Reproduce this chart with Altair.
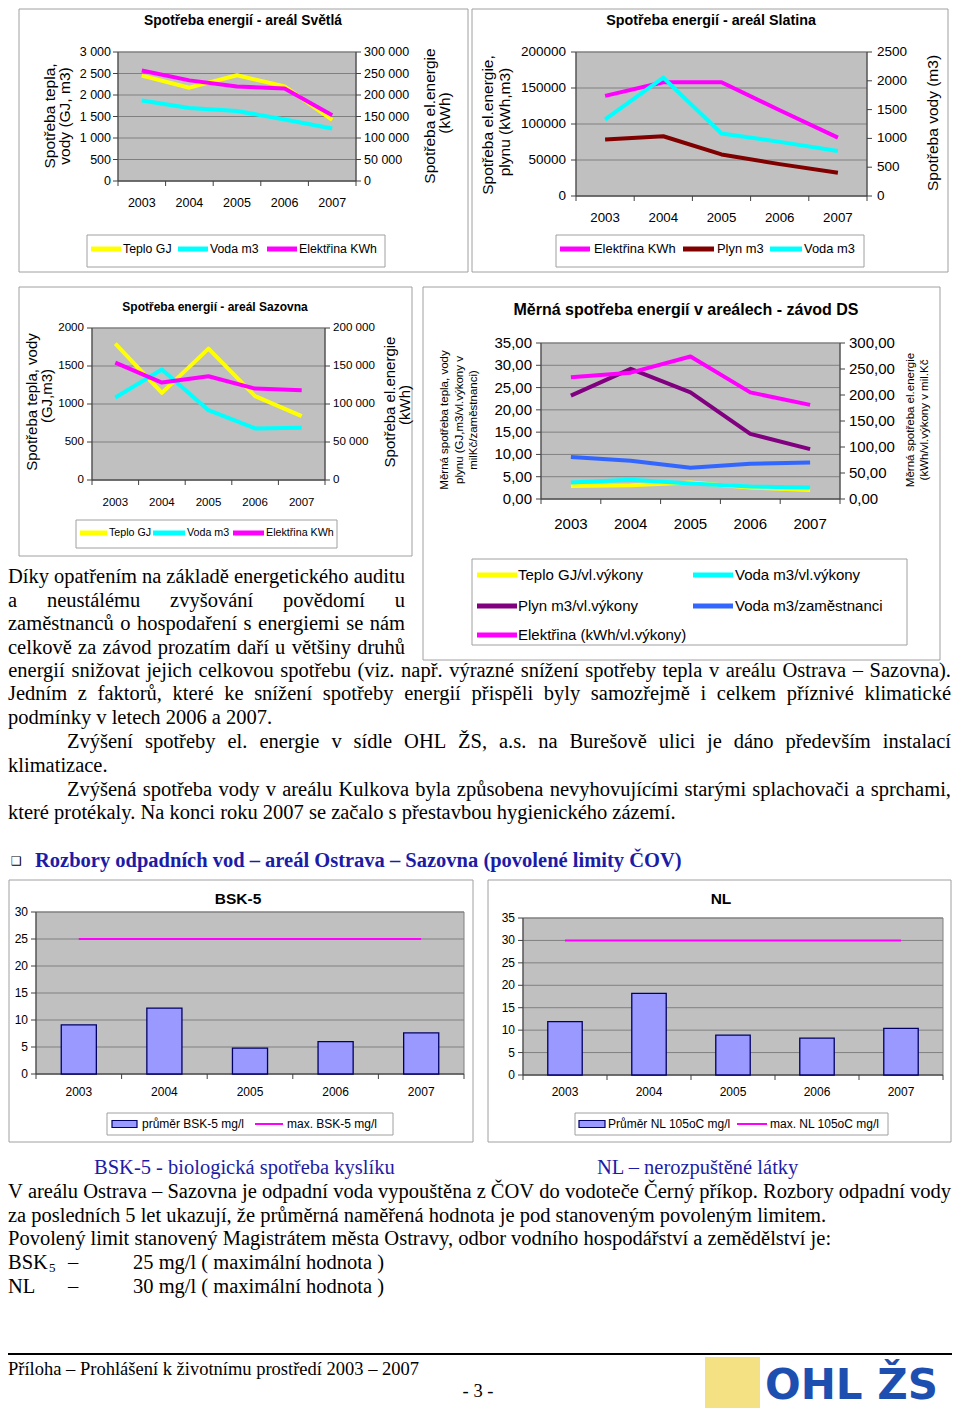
import unicodedata
import altair as alt
import pandas as pd

OFF = 8
SANS = "Liberation Sans, Arial, Helvetica, sans-serif"
NARROW = SANS
SERIF = "Liberation Serif, Times New Roman, serif"

YELLOW = "#ffff00"
CYAN = "#00ffff"
MAGENTA = "#ff00ff"
DKRED = "#800000"
PURPLE = "#800080"
BLUE = "#3366ff"
PLOT_BG = "#c0c0c0"
GRID = "#808080"
FRAME = "#a0a0a0"
AXIS = "#404040"
TEXT_BLUE = "#1c1ca6"

# ---------------- data ----------------
YEARS = [2003, 2004, 2005, 2006, 2007]
YEAR_LABELS = ["2003", "2004", "2005", "2006", "2007"]
BOUNDS = [2002.5, 2003.5, 2004.5, 2005.5, 2006.5, 2007.5]

# areál Světlá
SV_TEPLO = [2450, 2170, 2460, 2200, 1420]
SV_VODA = [1870, 1700, 1630, 1430, 1220]
SV_ELEKTRINA = [257000, 234000, 220000, 215000, 153000]
SV_LEFT_TICKS = [0, 500, 1000, 1500, 2000, 2500, 3000]
SV_LEFT_LABELS = ["0", "500", "1 000", "1 500", "2 000", "2 500", "3 000"]
SV_RIGHT_TICKS = [0, 50000, 100000, 150000, 200000, 250000, 300000]
SV_RIGHT_LABELS = ["0", "50 000", "100 000", "150 000", "200 000", "250 000", "300 000"]

# areál Slatina
SL_ELEKTRINA = [139000, 158000, 158000, 119000, 81000]
SL_PLYN = [78500, 83000, 57700, 44300, 32300]
SL_VODA = [1330, 2055, 1085, 940, 780]
SL_LEFT_TICKS = [0, 50000, 100000, 150000, 200000]
SL_LEFT_LABELS = ["0", "50000", "100000", "150000", "200000"]
SL_RIGHT_TICKS = [0, 500, 1000, 1500, 2000, 2500]
SL_RIGHT_LABELS = ["0", "500", "1000", "1500", "2000", "2500"]

# areál Sazovna
SZ_TEPLO = [1795, 1147, 1729, 1103, 840]
SZ_VODA = [1085, 1453, 919, 678, 687]
SZ_ELEKTRINA = [154500, 128200, 136500, 120300, 118200]
SZ_LEFT_TICKS = [0, 500, 1000, 1500, 2000]
SZ_LEFT_LABELS = ["0", "500", "1000", "1500", "2000"]
SZ_RIGHT_TICKS = [0, 50000, 100000, 150000, 200000]
SZ_RIGHT_LABELS = ["0", "50 000", "100 000", "150 000", "200 000"]

# závod DS
DS_TEPLO = [2.9, 3.1, 3.7, 2.6, 2.0]
DS_VODA_VYK = [3.7, 4.3, 3.5, 2.8, 2.6]
DS_PLYN = [23.2, 29.2, 23.9, 14.6, 11.2]
DS_VODA_ZAM = [9.4, 8.6, 7.0, 7.9, 8.2]
DS_ELEKTRINA = [234, 243, 274, 205, 181]
DS_LEFT_TICKS = [0, 5, 10, 15, 20, 25, 30, 35]
DS_LEFT_LABELS = ["0,00", "5,00", "10,00", "15,00", "20,00", "25,00", "30,00", "35,00"]
DS_RIGHT_TICKS = [0, 50, 100, 150, 200, 250, 300]
DS_RIGHT_LABELS = ["0,00", "50,00", "100,00", "150,00", "200,00", "250,00", "300,00"]

# odpadní vody
BSK_PRUMER = [9.1, 12.2, 4.8, 6.0, 7.6]
BSK_MAX = [25, 25, 25, 25, 25]
BSK_TICKS = [0, 5, 10, 15, 20, 25, 30]
BSK_LABELS = ["0", "5", "10", "15", "20", "25", "30"]
NL_PRUMER = [11.9, 18.2, 8.9, 8.2, 10.4]
NL_MAX = [30, 30, 30, 30, 30]
NL_TICKS = [0, 5, 10, 15, 20, 25, 30, 35]
NL_LABELS = ["0", "5", "10", "15", "20", "25", "30", "35"]

# ---------------- helpers ----------------
ONE = [{"k": 0}]


def _c():
    return alt.Chart(alt.Data(values=ONE))


def box(x0, y0, x1, y1, fill="white", stroke=FRAME, sw=1):
    kw = dict(fill=fill)
    if stroke:
        kw.update(stroke=stroke, strokeWidth=sw)
    return _c().mark_rect(**kw).encode(
        x=alt.value(x0 - OFF), x2=alt.value(x1 - OFF),
        y=alt.value(y0 - OFF), y2=alt.value(y1 - OFF))


def seg(x0, y0, x1, y1, color, w):
    return _c().mark_rule(color=color, strokeWidth=w).encode(
        x=alt.value(x0 - OFF), x2=alt.value(x1 - OFF),
        y=alt.value(y0 - OFF), y2=alt.value(y1 - OFF))


def txt(x, y, s, fs, font=SANS, weight="normal", color="black", align="left",
        angle=None, baseline="middle"):
    kw = dict(text=s, fontSize=fs, font=font, fontWeight=weight, color=color,
              align=align, baseline=baseline)
    if angle is not None:
        kw["angle"] = angle
    return _c().mark_text(**kw).encode(x=alt.value(x - OFF), y=alt.value(y - OFF))


def lin(dom, a, b):
    return alt.Scale(domain=dom, range=[a - OFF, b - OFF], nice=False, zero=False)


def legend(bx, items, fs, font, lw=5):
    L = [box(*bx)]
    for lx0, lx1, tx, y, color, s in items:
        L.append(seg(lx0, y, lx1, y, color, lw))
        L.append(txt(tx, y, s, fs, font=font))
    return L


def line_panel(c):
    L = [box(*c["frame"])]
    x0, y0, x1, y1 = c["plot"]
    L.append(box(x0, y0, x1, y1, fill=PLOT_BG, stroke=GRID))
    lt, ll = c["left"]
    rt, rl = c["right"]
    ls = lin([lt[0], lt[-1]], y1, y0)
    rs = lin([rt[0], rt[-1]], y1, y0)
    xs = lin([2002.5, 2007.5], x0, x1)
    ldf = pd.DataFrame({"t": lt, "lab": ll})
    rdf = pd.DataFrame({"t": rt, "lab": rl})
    yl = alt.Y("t:Q", scale=ls, axis=None)
    yr = alt.Y("t:Q", scale=rs, axis=None)
    L.append(alt.Chart(ldf).mark_rule(color=GRID, strokeWidth=1).encode(
        y=yl, x=alt.value(x0 - OFF), x2=alt.value(x1 - OFF)))
    L.append(seg(x0, y0, x0, y1, AXIS, 1))
    L.append(seg(x1, y0, x1, y1, AXIS, 1))
    L.append(seg(x0, y1, x1, y1, AXIS, 1))
    L.append(alt.Chart(ldf).mark_rule(color=AXIS).encode(
        y=yl, x=alt.value(x0 - OFF - 5), x2=alt.value(x0 - OFF)))
    L.append(alt.Chart(rdf).mark_rule(color=AXIS).encode(
        y=yr, x=alt.value(x1 - OFF), x2=alt.value(x1 - OFF + 5)))
    L.append(alt.Chart(pd.DataFrame({"b": BOUNDS})).mark_rule(color=AXIS).encode(
        x=alt.X("b:Q", scale=xs, axis=None), y=alt.value(y1 - OFF), y2=alt.value(y1 - OFF + 5)))
    f = c["font"]
    L.append(alt.Chart(ldf).mark_text(align="right", baseline="middle", font=f,
                                      fontSize=c["tick_fs"]).encode(
        y=yl, x=alt.value(x0 - OFF - c["lgap"]), text="lab:N"))
    L.append(alt.Chart(rdf).mark_text(align="left", baseline="middle", font=f,
                                      fontSize=c["tick_fs"]).encode(
        y=yr, x=alt.value(x1 - OFF + c["rgap"]), text="lab:N"))
    xdf = pd.DataFrame({"year": YEARS, "lab": YEAR_LABELS})
    L.append(alt.Chart(xdf).mark_text(align="center", baseline="middle", font=f,
                                      fontSize=c["x_fs"]).encode(
        x=alt.X("year:Q", scale=xs, axis=None), y=alt.value(c["x_y"] - OFF), text="lab:N"))
    for vals, side, color in c["series"]:
        df = pd.DataFrame({"year": YEARS, "v": vals})
        L.append(alt.Chart(df).mark_line(color=color, strokeWidth=4, strokeJoin="round").encode(
            x=alt.X("year:Q", scale=xs, axis=None),
            y=alt.Y("v:Q", scale=ls if side == "left" else rs, axis=None)))
    s, tx, ty, tfs = c["title"]
    L.append(txt(tx, ty, s, tfs, font=f, weight="bold", align="center"))
    for s, ax, ay in c["axis_titles"]:
        L.append(txt(ax, ay, s, c["at_fs"], font=SANS, align="center", angle=270))
    L += legend(c["legend_box"], c["legend_items"], c["legend_fs"], f)
    return L


def bar_panel(c):
    L = [box(*c["frame"])]
    x0, y0, x1, y1 = c["plot"]
    L.append(box(x0, y0, x1, y1, fill=PLOT_BG, stroke=GRID))
    ticks, labels = c["ticks"]
    ys = lin([ticks[0], ticks[-1]], y1, y0)
    bs = alt.Scale(type="band", domain=YEARS, range=[x0 - OFF, x1 - OFF],
                   paddingInner=0.59, paddingOuter=0.295)
    ps = alt.Scale(type="point", domain=YEARS, range=[x0 - OFF, x1 - OFF], padding=0.5)
    qs = lin([2002.5, 2007.5], x0, x1)
    tdf = pd.DataFrame({"t": ticks, "lab": labels})
    yt = alt.Y("t:Q", scale=ys, axis=None)
    L.append(alt.Chart(tdf).mark_rule(color=GRID, strokeWidth=1).encode(
        y=yt, x=alt.value(x0 - OFF), x2=alt.value(x1 - OFF)))
    L.append(seg(x0, y0, x0, y1, AXIS, 1))
    L.append(seg(x0, y1, x1, y1, AXIS, 1))
    L.append(alt.Chart(tdf).mark_rule(color=AXIS).encode(
        y=yt, x=alt.value(x0 - OFF - 5), x2=alt.value(x0 - OFF)))
    L.append(alt.Chart(pd.DataFrame({"b": BOUNDS})).mark_rule(color=AXIS).encode(
        x=alt.X("b:Q", scale=qs, axis=None), y=alt.value(y1 - OFF), y2=alt.value(y1 - OFF + 5)))
    L.append(alt.Chart(tdf).mark_text(align="right", baseline="middle", font=SANS,
                                      fontSize=12).encode(
        y=yt, x=alt.value(x0 - OFF - 8), text="lab:N"))
    xdf = pd.DataFrame({"year": YEARS, "lab": YEAR_LABELS})
    L.append(alt.Chart(xdf).mark_text(align="center", baseline="middle", font=SANS,
                                      fontSize=12).encode(
        x=alt.X("year:O", scale=ps, axis=None), y=alt.value(c["x_y"] - OFF), text="lab:N"))
    bdf = pd.DataFrame({"year": YEARS, "v": c["bars"]})
    L.append(alt.Chart(bdf).mark_bar(fill="#9999ff", stroke="#000066", strokeWidth=1.3).encode(
        x=alt.X("year:O", scale=bs, axis=None), y=alt.Y("v:Q", scale=ys, axis=None),
        y2=alt.datum(0)))
    mdf = pd.DataFrame({"year": YEARS, "v": c["maxline"]})
    L.append(alt.Chart(mdf).mark_line(color=MAGENTA, strokeWidth=2).encode(
        x=alt.X("year:O", scale=ps, axis=None), y=alt.Y("v:Q", scale=ys, axis=None)))
    s, tx, ty = c["title"]
    L.append(txt(tx, ty, s, 15.5, weight="bold", align="center"))
    lb = c["legend_box"]
    L.append(box(*lb))
    ly = (lb[1] + lb[3]) / 2
    sx0, sx1, t1x, mx0, mx1, t2x = c["legend_pos"]
    L.append(box(sx0, ly - 3.5, sx1, ly + 3.5, fill="#9999ff", stroke="#000066", sw=1.2))
    L.append(txt(t1x, ly, c["legend_text"][0], 12))
    L.append(seg(mx0, ly, mx1, ly, MAGENTA, 2))
    L.append(txt(t2x, ly, c["legend_text"][1], 12))
    return L


# ---------------- body text helpers ----------------
TW = {" ": 250, "!": 333, "(": 333, ")": 333, ",": 250, "-": 333, ".": 250, "/": 278,
      ":": 278, ";": 278, "–": 500,
      "A": 722, "B": 667, "C": 667, "D": 722, "E": 611, "F": 556, "G": 722, "H": 722,
      "I": 333, "J": 389, "K": 722, "L": 611, "M": 889, "N": 722, "O": 722, "P": 556,
      "Q": 722, "R": 667, "S": 556, "T": 611, "U": 722, "V": 722, "W": 944, "X": 722,
      "Y": 722, "Z": 611,
      "a": 444, "b": 500, "c": 444, "d": 500, "e": 444, "f": 333, "g": 500, "h": 500,
      "i": 278, "j": 278, "k": 500, "l": 278, "m": 778, "n": 500, "o": 500, "p": 500,
      "q": 500, "r": 333, "s": 389, "t": 278, "u": 500, "v": 500, "w": 722, "x": 500,
      "y": 500, "z": 444}


def tw(s, fs):
    w = 0
    for ch in s:
        base = unicodedata.normalize("NFD", ch)[0]
        w += TW.get(base, 500)
    return w * fs / 1000.0


BODY_FS = 20.5
BODY_LINES = [
    ("Díky opatřením na základě energetického auditu", 8, 405, 577, True),
    ("a neustálému zvyšování povědomí u", 8, 405, 601, True),
    ("zaměstnanců o hospodaření s energiemi se nám", 8, 405, 624, True),
    ("celkově za závod prozatím daří u většiny druhů", 8, 405, 648, True),
    ("energií snižovat jejich celkovou spotřebu (viz. např. výrazné snížení spotřeby tepla v areálu Ostrava – Sazovna).", 8, 951, 671, True),
    ("Jedním z faktorů, které ke snížení spotřeby energií přispěli byly samozřejmě i celkem příznivé klimatické", 8, 951, 694, True),
    ("podmínky v letech 2006 a 2007.", 8, None, 718, False),
    ("Zvýšení spotřeby el. energie v sídle OHL ŽS, a.s. na Burešově ulici je dáno především instalací", 67, 951, 742, True),
    ("klimatizace.", 8, None, 766, False),
    ("Zvýšená spotřeba vody v areálu Kulkova byla způsobena nevyhovujícími starými splachovači a sprchami,", 67, 951, 790, True),
    ("které protékaly. Na konci roku 2007 se začalo s přestavbou hygienického zázemí.", 8, None, 813, False),
    ("V areálu Ostrava – Sazovna je odpadní voda vypouštěna z ČOV do vodoteče Černý příkop. Rozbory odpadní vody", 8, 951, 1192, True),
    ("za posledních 5 let ukazují, že průměrná naměřená hodnota je pod stanoveným povoleným limitem.", 8, None, 1216, False),
    ("Povolený limit stanovený Magistrátem města Ostravy, odbor vodního hospodářství a zemědělství je:", 8, None, 1239, False),
    ("BSK", 8, None, 1263, False),
    ("–", 68, None, 1263, False),
    ("25 mg/l ( maximální hodnota )", 133, None, 1263, False),
    ("NL", 8, None, 1287, False),
    ("–", 68, None, 1287, False),
    ("30 mg/l ( maximální hodnota )", 133, None, 1287, False),
]


def body_rows():
    centered, left = [], []
    for s, x0, x1, y, just in BODY_LINES:
        if not just:
            left.append({"x": x0 - OFF, "y": y - OFF, "t": s})
            continue
        words = s.split()
        widths = [tw(w, BODY_FS) for w in words]
        gap = (x1 - x0 - sum(widths)) / (len(words) - 1)
        x = x0
        for w, wd in zip(words, widths):
            centered.append({"x": x + wd / 2 - OFF, "y": y - OFF, "t": w})
            x += wd + gap
    return centered, left


def text_layer(rows, align, fs, font=SERIF, weight="normal", color="black"):
    return alt.Chart(pd.DataFrame(rows)).mark_text(
        align=align, baseline="middle", fontSize=fs, font=font, fontWeight=weight, color=color
    ).encode(x=alt.X("x:Q", scale=None, axis=None), y=alt.Y("y:Q", scale=None, axis=None),
             text="t:N")


# ---------------- panels ----------------
layers = []

layers += line_panel(dict(
    frame=(19, 9, 468, 272), plot=(118, 52, 356, 181), font=NARROW,
    left=(SV_LEFT_TICKS, SV_LEFT_LABELS), right=(SV_RIGHT_TICKS, SV_RIGHT_LABELS),
    tick_fs=12.5, lgap=7, rgap=8, x_fs=12.5, x_y=203,
    series=[(SV_TEPLO, "left", YELLOW), (SV_VODA, "left", CYAN), (SV_ELEKTRINA, "right", MAGENTA)],
    title=("Spotřeba energií - areál Světlá", 243, 21, 13.8),
    axis_titles=[("Spotřeba tepla,", 50, 116), ("vody (GJ, m3)", 65, 116),
                 ("Spotřeba el.energie", 430, 116), ("(kWh)", 445, 113)],
    at_fs=15.5,
    legend_box=(87, 235, 385, 267),
    legend_items=[(91, 121, 123, 249, YELLOW, "Teplo GJ"), (178, 208, 210, 249, CYAN, "Voda m3"),
                  (267, 297, 299, 249, MAGENTA, "Elektřina KWh")],
    legend_fs=12.3))

layers += line_panel(dict(
    frame=(472, 9, 948, 272), plot=(576, 52, 867, 196), font=NARROW,
    left=(SL_LEFT_TICKS, SL_LEFT_LABELS), right=(SL_RIGHT_TICKS, SL_RIGHT_LABELS),
    tick_fs=13.5, lgap=10, rgap=10, x_fs=13.3, x_y=218,
    series=[(SL_ELEKTRINA, "left", MAGENTA), (SL_PLYN, "left", DKRED), (SL_VODA, "right", CYAN)],
    title=("Spotřeba energií - areál Slatina", 711, 21, 14.3),
    axis_titles=[("Spotřeba el.energie,", 488, 125), ("plynu (kWh,m3)", 505, 122),
                 ("Spotřeba vody (m3)", 933, 123)],
    at_fs=15.5,
    legend_box=(556, 235, 864, 267),
    legend_items=[(560, 590, 594, 249, MAGENTA, "Elektřina KWh"), (683, 714, 717, 249, DKRED, "Plyn m3"),
                  (770, 802, 804, 249, CYAN, "Voda m3")],
    legend_fs=12.9))

layers += line_panel(dict(
    frame=(19, 287, 412, 556), plot=(92, 328, 325, 480), font=NARROW,
    left=(SZ_LEFT_TICKS, SZ_LEFT_LABELS), right=(SZ_RIGHT_TICKS, SZ_RIGHT_LABELS),
    tick_fs=11.6, lgap=8, rgap=8, x_fs=11.5, x_y=503,
    series=[(SZ_TEPLO, "left", YELLOW), (SZ_VODA, "left", CYAN), (SZ_ELEKTRINA, "right", MAGENTA)],
    title=("Spotřeba energií - areál Sazovna", 215, 307, 12),
    axis_titles=[("Spotřeba tepla, vody", 32, 402), ("(GJ,m3)", 47, 396),
                 ("Spotřeba el.energie", 390, 402), ("(kWh)", 405, 405)],
    at_fs=15,
    legend_box=(76, 520, 337, 548),
    legend_items=[(80, 107, 109, 533, YELLOW, "Teplo GJ"), (153, 185, 187, 533, CYAN, "Voda m3"),
                  (233, 264, 266, 533, MAGENTA, "Elektřina KWh")],
    legend_fs=10.7))

layers += line_panel(dict(
    frame=(423, 287, 940, 660), plot=(541, 343, 840, 499), font=NARROW,
    left=(DS_LEFT_TICKS, DS_LEFT_LABELS), right=(DS_RIGHT_TICKS, DS_RIGHT_LABELS),
    tick_fs=15, lgap=9, rgap=9, x_fs=15, x_y=524,
    series=[(DS_TEPLO, "left", YELLOW), (DS_VODA_VYK, "left", CYAN), (DS_PLYN, "left", PURPLE),
            (DS_VODA_ZAM, "left", BLUE), (DS_ELEKTRINA, "right", MAGENTA)],
    title=("Měrná spotřeba energií v areálech - závod DS", 686, 310, 16),
    axis_titles=[("Měrná spotřeba tepla, vody", 445, 420), ("plynu (GJ,m3/vl.výkony v", 460, 420),
                 ("milKč/zaměstnanci)", 474, 420),
                 ("Měrná spotřeba el.energie", 911, 420), ("(kWh/vl.výkony v mil.Kč", 925, 420)],
    at_fs=11.5,
    legend_box=(472, 559, 907, 645),
    legend_items=[(477, 517, 518, 575, YELLOW, "Teplo GJ/vl.výkony"),
                  (693, 733, 735, 575, CYAN, "Voda m3/vl.výkony"),
                  (477, 517, 518, 606, PURPLE, "Plyn m3/vl.výkony"),
                  (693, 733, 735, 606, BLUE, "Voda m3/zaměstnanci"),
                  (477, 517, 518, 635, MAGENTA, "Elektřina (kWh/vl.výkony)")],
    legend_fs=15))

layers += bar_panel(dict(
    frame=(9, 880, 473, 1142), plot=(36, 912, 464, 1074),
    ticks=(BSK_TICKS, BSK_LABELS), x_y=1092, bars=BSK_PRUMER, maxline=BSK_MAX,
    title=("BSK-5", 238, 899),
    legend_box=(107, 1113, 393, 1135), legend_pos=(112, 137, 142, 255, 283, 287),
    legend_text=("průměr BSK-5 mg/l", "max. BSK-5 mg/l")))

layers += bar_panel(dict(
    frame=(488, 880, 951, 1142), plot=(523, 918, 943, 1075),
    ticks=(NL_TICKS, NL_LABELS), x_y=1092, bars=NL_PRUMER, maxline=NL_MAX,
    title=("NL", 721, 899),
    legend_box=(575, 1113, 888, 1135), legend_pos=(579, 605, 608, 737, 767, 770),
    legend_text=("Průměr NL 105oC mg/l", "max. NL 105oC mg/l")))

# ---------------- text ----------------
cen, lef = body_rows()
layers.append(text_layer(cen, "center", BODY_FS))
layers.append(text_layer(lef, "left", BODY_FS))
layers.append(txt(49, 1268, "5", 13, font=SERIF))
layers.append(txt(11, 861, "❑", 12, font="DejaVu Sans"))
layers.append(txt(35, 861, "Rozbory odpadních vod – areál Ostrava – Sazovna (povolené limity ČOV)",
                  BODY_FS, font=SERIF, weight="bold", color=TEXT_BLUE))
layers.append(txt(94, 1168, "BSK-5 - biologická spotřeba kyslíku", BODY_FS, font=SERIF, color=TEXT_BLUE))
layers.append(txt(597, 1168, "NL – nerozpuštěné látky", BODY_FS, font=SERIF, color=TEXT_BLUE))

# footer
layers.append(seg(8, 1354, 952, 1354, "black", 2))
layers.append(txt(8, 1369, "Příloha – Prohlášení k životnímu prostředí  2003 – 2007", 18.5, font=SERIF))
layers.append(txt(478, 1391, "- 3 -", 18.5, font=SERIF, align="center"))
layers.append(box(705, 1357, 760, 1412, fill="#f3e183", stroke=None))
layers.append(txt(765, 1386, "OHL ŽS", 42, font="DejaVu Sans", weight="bold", color="#1d4fb0"))

chart = alt.layer(*layers).resolve_scale(x="independent", y="independent").properties(
    width=944, height=1400, autosize=alt.AutoSizeParams(type="none"), padding=0,
    background="white"
).configure_view(stroke=None)

chart.save("out.html", embed_options={"renderer": "svg", "actions": False})
